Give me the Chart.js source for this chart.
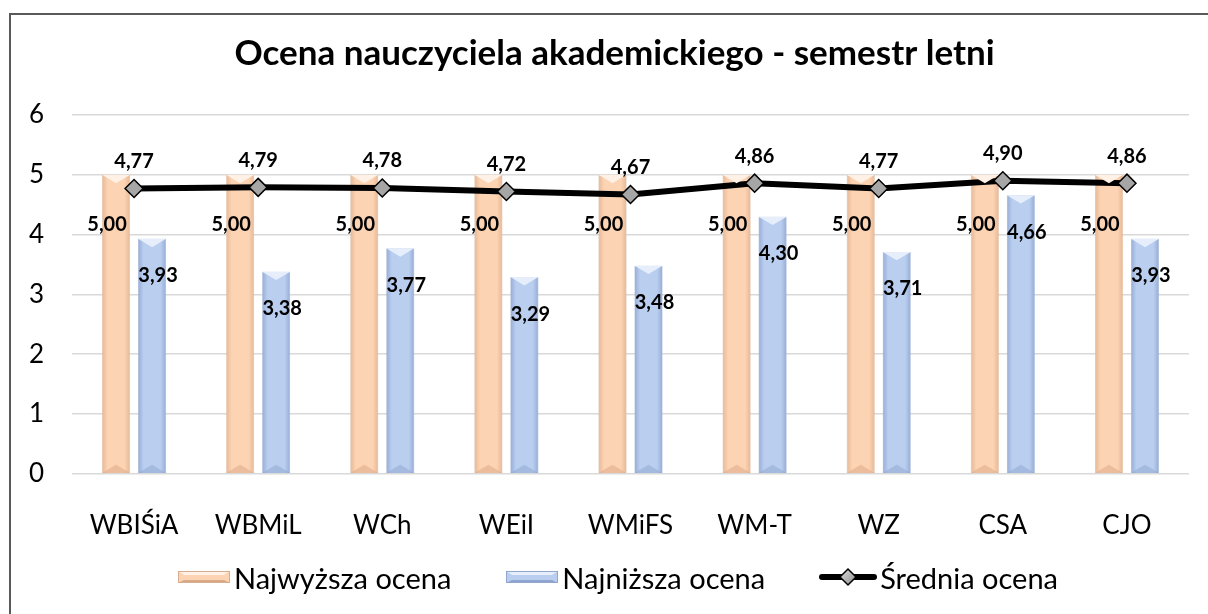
<!DOCTYPE html>
<html>
<head>
<meta charset="utf-8">
<script src="https://cdn.jsdelivr.net/npm/chart.js@4.4.1/dist/chart.umd.min.js"></script>
<style>
  html, body { margin: 0; padding: 0; background: #fff; overflow: hidden; }
  #wrap { position: relative; width: 1208px; height: 614px; overflow: hidden; }
  #frame { position: absolute; left: 9px; top: 13px; width: 1400px; height: 800px; border: 2px solid #595959; box-sizing: border-box; }
  #c { position: absolute; left: 0; top: 0; }
  #legend { position: absolute; left: 177px; top: 559px; height: 36px; display: flex; align-items: center;
            font-family: Lato, "Open Sans", sans-serif; font-size: 29px; color: #000; white-space: nowrap; }
  .item { display: flex; align-items: center; margin-right: 54px; flex-shrink: 0; }
  .item canvas { display: block; flex-shrink: 0; margin-right: 3px; }
</style>
</head>
<body>
<div id="wrap">
  <div id="frame"></div>
  <canvas id="c" width="1208" height="614"></canvas>
  <div id="legend"></div>
</div>
<script>
const categories = ['WBIŚiA', 'WBMiL', 'WCh', 'WEiI', 'WMiFS', 'WM-T', 'WZ', 'CSA', 'CJO'];
const highest = [5.00, 5.00, 5.00, 5.00, 5.00, 5.00, 5.00, 5.00, 5.00];
const lowest = [3.93, 3.38, 3.77, 3.29, 3.48, 4.30, 3.71, 4.66, 3.93];
const average = [4.77, 4.79, 4.78, 4.72, 4.67, 4.86, 4.77, 4.90, 4.86];
const seriesNames = ['Najwyższa ocena', 'Najniższa ocena', 'Średnia ocena'];
const yTicks = [0, 1, 2, 3, 4, 5, 6];

const FONT = 'Lato, "Open Sans", sans-serif';
const CAT_PCT = 0.58, BAR_PCT = 0.78;
const palette = [
  { mid: '#FCD3B3', edge: '#E6B896', top: '#FFF1E6', bottom: '#D9A887', border: '#D7AD90' },
  { mid: '#BACEEF', edge: '#95ACD6', top: '#E6EEFB', bottom: '#8FA5CF', border: '#91A6CD' }
];

function barGradient(pal) {
  return function(context) {
    const chart = context.chart;
    const xs = chart.scales && chart.scales.x;
    if (!xs || context.dataIndex === undefined || !chart.chartArea) return pal.mid;
    const slot = xs.width / categories.length * CAT_PCT / 2;
    const half = slot * BAR_PCT / 2;
    const off = context.datasetIndex === 0 ? -slot / 2 : slot / 2;
    const cx = xs.getPixelForValue(context.dataIndex) + off;
    if (!isFinite(cx) || !isFinite(half) || half <= 0) return pal.mid;
    const g = chart.ctx.createLinearGradient(cx - half, 0, cx + half, 0);
    g.addColorStop(0, pal.edge);
    g.addColorStop(0.2, pal.mid);
    g.addColorStop(0.8, pal.mid);
    g.addColorStop(1, pal.edge);
    return g;
  };
}

function fmt(v) { return v.toFixed(2).replace('.', ','); }

function makeSwatch(pal) {
  const c = document.createElement('canvas');
  c.width = 54; c.height = 14;
  c.style.width = '54px'; c.style.height = '14px';
  const x = c.getContext('2d');
  x.fillStyle = pal.mid; x.fillRect(1, 1, 52, 12);
  x.fillStyle = pal.top;
  x.beginPath(); x.moveTo(1, 1); x.lineTo(53, 1); x.lineTo(47, 5); x.lineTo(7, 5); x.closePath(); x.fill();
  x.fillStyle = pal.bottom;
  x.beginPath(); x.moveTo(1, 13); x.lineTo(53, 13); x.lineTo(47, 10); x.lineTo(7, 10); x.closePath(); x.fill();
  x.strokeStyle = pal.border; x.lineWidth = 1; x.strokeRect(1.5, 1.5, 51, 11);
  return c;
}
function makeLineSwatch() {
  const c = document.createElement('canvas');
  c.width = 58; c.height = 22;
  c.style.width = '58px'; c.style.height = '22px';
  const x = c.getContext('2d');
  x.strokeStyle = '#000'; x.lineWidth = 6; x.lineCap = 'round';
  x.beginPath(); x.moveTo(3, 11); x.lineTo(55, 11); x.stroke();
  x.beginPath(); x.moveTo(29, 3); x.lineTo(37, 11); x.lineTo(29, 19); x.lineTo(21, 11); x.closePath();
  const g = x.createLinearGradient(21, 3, 37, 19);
  g.addColorStop(0, '#E0E0E0'); g.addColorStop(1, '#8C8C8C');
  x.fillStyle = g; x.fill(); x.lineWidth = 1.5; x.stroke();
  return c;
}

const legendEl = document.getElementById('legend');
[makeSwatch(palette[0]), makeSwatch(palette[1]), makeLineSwatch()].forEach((sw, k) => {
  const it = document.createElement('div');
  it.className = 'item';
  it.appendChild(sw);
  const s = document.createElement('span');
  s.textContent = seriesNames[k];
  it.appendChild(s);
  legendEl.appendChild(it);
});

const bevelPlugin = {
  id: 'bevel',
  afterDatasetsDraw(chart) {
    const ctx = chart.ctx;
    [0, 1].forEach(di => {
      const pal = palette[di];
      chart.getDatasetMeta(di).data.forEach(el => {
        const l = el.x - el.width / 2, r = el.x + el.width / 2, t = el.y, b = el.base;
        ctx.save();
        ctx.fillStyle = pal.top;
        ctx.beginPath(); ctx.moveTo(l, t); ctx.lineTo(r, t); ctx.lineTo(el.x, t + el.width * 0.3); ctx.closePath(); ctx.fill();
        ctx.globalAlpha = 0.5;
        ctx.fillStyle = pal.bottom;
        ctx.beginPath(); ctx.moveTo(l, b); ctx.lineTo(r, b); ctx.lineTo(el.x, b - el.width * 0.3); ctx.closePath(); ctx.fill();
        ctx.restore();
      });
    });
  }
};

const labelPlugin = {
  id: 'vlabels',
  afterDraw(chart) {
    const ctx = chart.ctx;
    ctx.save();
    ctx.font = 'bold 20px ' + FONT;
    ctx.fillStyle = '#000';
    ctx.textAlign = 'center';
    ctx.textBaseline = 'middle';
    chart.getDatasetMeta(0).data.forEach((el, i) => {
      ctx.fillText(fmt(highest[i]), el.x - 9, el.y + 50);
    });
    chart.getDatasetMeta(1).data.forEach((el, i) => {
      ctx.fillText(fmt(lowest[i]), el.x + 6, el.y + 37);
    });
    chart.getDatasetMeta(2).data.forEach((el, i) => {
      ctx.fillText(fmt(average[i]), el.x, el.y - 27);
    });
    ctx.restore();
  }
};

new Chart(document.getElementById('c'), {
  data: {
    labels: categories,
    datasets: [
      { type: 'bar', label: seriesNames[0], data: highest, order: 1,
        backgroundColor: barGradient(palette[0]), borderColor: palette[0].border, borderWidth: 0.5,
        categoryPercentage: CAT_PCT, barPercentage: BAR_PCT },
      { type: 'bar', label: seriesNames[1], data: lowest, order: 1,
        backgroundColor: barGradient(palette[1]), borderColor: palette[1].border, borderWidth: 0.5,
        categoryPercentage: CAT_PCT, barPercentage: BAR_PCT },
      { type: 'line', label: seriesNames[2], data: average, order: 0,
        borderColor: '#000', borderWidth: 6, pointStyle: 'rectRot', pointRadius: 9,
        pointBackgroundColor: '#A6A6A6', pointBorderColor: '#000', pointBorderWidth: 1.5, tension: 0 }
    ]
  },
  options: {
    responsive: false,
    animation: false,
    layout: { padding: { left: 40, right: 19, top: 0, bottom: 37 } },
    plugins: {
      title: {
        display: true,
        text: 'Ocena nauczyciela akademickiego - semestr letni',
        font: { family: FONT, size: 35, weight: 'bold' },
        color: '#000',
        padding: { top: 33, bottom: 40 }
      },
      legend: { display: false },
      tooltip: { enabled: false }
    },
    scales: {
      x: {
        grid: { display: false, drawTicks: false },
        border: { display: false },
        ticks: { color: '#000', font: { family: FONT, size: 26 }, padding: 36 }
      },
      y: {
        min: 0, max: 6,
        afterBuildTicks(scale) { scale.ticks = yTicks.map(v => ({ value: v })); },
        afterFit(scale) { scale.width = 32; },
        grid: { color: '#D9D9D9', lineWidth: 1.5, drawTicks: false },
        border: { display: false },
        ticks: { color: '#000', font: { family: FONT, size: 26 }, mirror: true, padding: -43 }
      }
    }
  },
  plugins: [bevelPlugin, labelPlugin]
});
</script>
</body>
</html>
